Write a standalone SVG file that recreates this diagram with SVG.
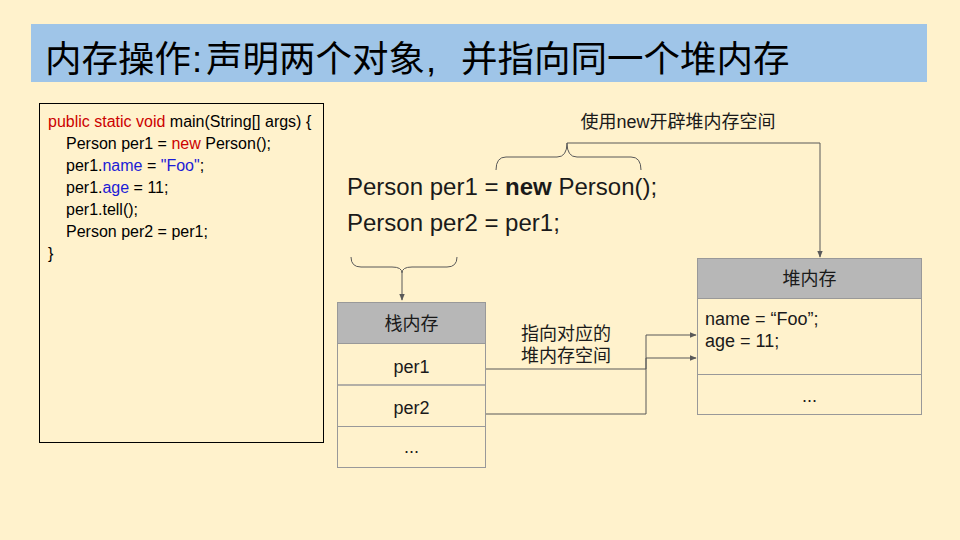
<svg xmlns="http://www.w3.org/2000/svg" width="960" height="540" viewBox="0 0 960 540">
  <defs>
    <marker id="arrow" viewBox="0 0 10 10" refX="9" refY="5" markerWidth="7" markerHeight="7" orient="auto" markerUnits="userSpaceOnUse">
      <path d="M0,1 L10,5 L0,9 Z" fill="#595959"/>
    </marker>
    <style>
      .sans { font-family: "Liberation Sans", Arial, "Noto Sans CJK SC", sans-serif; fill: #1a1a1a; }
      .cjk { font-family: "Noto Sans CJK SC", "Liberation Sans", sans-serif; fill: #1a1a1a; }
      .ttl { font-family: "Noto Sans CJK SC", "Liberation Sans", sans-serif; font-size: 36.5px; fill: #000; }
      .punct { font-family: "Liberation Sans", Arial, sans-serif; font-size: 36.5px; fill: #000; }
      .code { font-family: "Liberation Sans", Arial, sans-serif; font-size: 16px; fill: #000; }
      .kw { fill: #cc0000; }
      .fld { fill: #1c1cd6; }
      .cell { fill: none; stroke: #999999; stroke-width: 1; }
      .head { fill: #b7b7b7; stroke: #999999; stroke-width: 1; }
      .wire { fill: none; stroke: #595959; stroke-width: 1; }
      .mid { font-family: "Liberation Sans", Arial, sans-serif; font-size: 24px; fill: #1a1a1a; }
      .cellt { font-size: 18px; text-anchor: middle; }
    </style>
  </defs>

  <rect x="0" y="0" width="960" height="540" fill="#fff2cc"/>

  <!-- title bar -->
  <g id="title">
    <rect x="31" y="24" width="896" height="58" fill="#9fc5e8"/>
    <text class="ttl" x="45" y="72">内存操作</text>
    <text class="punct" x="192" y="72">:</text>
    <text class="ttl" x="206" y="72">声明两个对象</text>
    <text class="punct" x="426" y="72">,</text>
    <text class="ttl" x="461" y="72">并指向同一个堆内存</text>
  </g>

  <!-- source listing -->
  <g id="code-box">
    <rect x="39.5" y="103.5" width="284" height="339" fill="none" stroke="#000" stroke-width="1"/>
    <text class="code" x="48" y="127"><tspan class="kw">public static void</tspan> main(String[] args) {</text>
    <text class="code" x="66" y="149">Person per1 = <tspan class="kw">new</tspan> Person();</text>
    <text class="code" x="66" y="171">per1.<tspan class="fld">name</tspan> = <tspan class="fld">"Foo"</tspan>;</text>
    <text class="code" x="66" y="193">per1.<tspan class="fld">age</tspan> = 11;</text>
    <text class="code" x="66" y="215">per1.tell();</text>
    <text class="code" x="66" y="237">Person per2 = per1;</text>
    <text class="code" x="48" y="259">}</text>
  </g>

  <!-- statements -->
  <g id="statements">
    <text class="mid" x="347" y="195">Person per1 = <tspan font-weight="bold">new</tspan> Person();</text>
    <text class="mid" x="347" y="231">Person per2 = per1;</text>
  </g>

  <g id="label-new">
    <text class="sans" x="678" y="128" font-size="18" text-anchor="middle">使用new开辟堆内存空间</text>
  </g>

  <g id="label-point">
    <text class="sans" x="521" y="340" font-size="18">指向对应的</text>
    <text class="sans" x="521" y="362" font-size="18">堆内存空间</text>
  </g>

  <!-- stack memory -->
  <g id="stack">
    <rect class="head" x="337.5" y="302.5" width="148" height="41"/>
    <rect class="cell" x="337.5" y="343.5" width="148" height="41.5"/>
    <rect class="cell" x="337.5" y="385" width="148" height="41.5"/>
    <rect class="cell" x="337.5" y="426.5" width="148" height="41"/>
    <text class="cjk cellt" x="411.5" y="330">栈内存</text>
    <text class="sans cellt" x="411.5" y="373">per1</text>
    <text class="sans cellt" x="411.5" y="414">per2</text>
    <text class="sans cellt" x="411.5" y="453">...</text>
  </g>

  <!-- heap memory -->
  <g id="heap">
    <rect class="head" x="697.5" y="258.5" width="224" height="40"/>
    <rect class="cell" x="697.5" y="298.5" width="224" height="76"/>
    <rect class="cell" x="697.5" y="374.5" width="224" height="40"/>
    <text class="cjk cellt" x="809.5" y="285">堆内存</text>
    <text class="sans" x="705" y="325" font-size="18">name = “Foo”;</text>
    <text class="sans" x="705" y="347" font-size="18">age = 11;</text>
    <text class="sans cellt" x="809.5" y="402">...</text>
  </g>

  <!-- connectors -->
  <g id="connectors">
    <!-- brace over "new Person();" -->
    <path class="wire" d="M496,170 Q496,157 506,157 L557,157 Q567,157 567,143 Q567,157 577,157 L631,157 Q641,157 641,170"/>
    <path class="wire" d="M567,143 H820 V257" marker-end="url(#arrow)"/>
    <!-- brace under "Person per2" -->
    <path class="wire" d="M351,257 Q351,267 361,267 L392,267 Q402,267 402,273 Q402,267 412,267 L447,267 Q457,267 457,257"/>
    <path class="wire" d="M402,273 V300" marker-end="url(#arrow)"/>
    <!-- references from stack to heap -->
    <path class="wire" d="M486,369 H646 V335 H696" marker-end="url(#arrow)"/>
    <path class="wire" d="M486,414 H646 V358 H696" marker-end="url(#arrow)"/>
  </g>
</svg>
